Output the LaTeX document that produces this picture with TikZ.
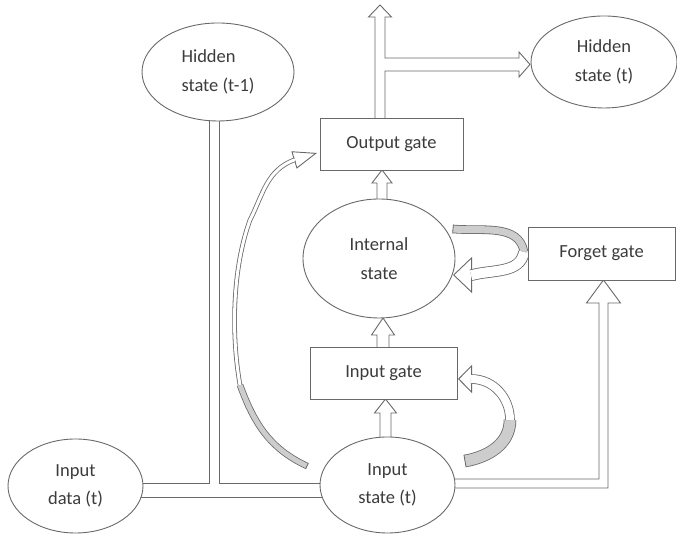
\documentclass[tikz,border=0pt]{standalone}
\usepackage{fontspec}
\setmainfont{Carlito}
\usetikzlibrary{arrows.meta,calc,shapes.geometric}
\definecolor{edge}{RGB}{105,105,105}
\definecolor{ink}{RGB}{60,60,60}
\definecolor{back}{RGB}{205,205,205}
\pgfdeclarelayer{bg}
\pgfsetlayers{bg,main}
% hollow up arrow: start, tip, shaft half width, head half width, head length
\newcommand{\blockup}[5]{\draw[wall] ($(#1)+(-#3,0)$) -- ($(#2)+(-#3,-#5)$) -- ++(#3-#4,0) -- (#2)
  -- ($(#2)+(#4,-#5)$) -- ++(#3-#4,0) -- ($(#1)+(#3,0)$);}

\begin{document}
\begin{tikzpicture}[x=1pt,y=1pt,
  txt/.style={font=\fontsize{18.5}{28.5}\selectfont, text=ink, align=center},
  cell/.style={txt, draw=edge, line width=0.9pt, fill=white, ellipse, inner sep=0pt},
  gate/.style={txt, draw=edge, line width=0.9pt, fill=white, rectangle, inner sep=0pt},
  wall/.style={draw=edge, line width=0.9pt, line join=miter},
  ribbon/.style={draw=edge, line width=0.8pt, double=white, double distance=#1},
  band/.style={draw=edge, line width=0.8pt, double=back, double distance=#1},
  head/.style 2 args={draw=edge, line width=0.9pt, -{Triangle[fill=white,length=#1,width=#2]}}]
  \useasboundingbox (0,0) rectangle (677,534);

  % cells and gates
  \node[cell, minimum width=152pt, minimum height=98pt, align=left] (hprev) at (218,462) {Hidden\\state (t-1)};
  \node[cell, minimum width=146pt, minimum height=92pt] (hnext) at (604,472) {Hidden\\state (t)};
  \node[gate, minimum width=143pt, minimum height=52pt] (outg) at (391.5,390) {Output gate};
  \node[cell, minimum width=152pt, minimum height=119pt] (intst) at (379,275.5) {Internal\\state};
  \node[gate, minimum width=147pt, minimum height=53pt] (forg) at (601.5,280.5) {Forget gate};
  \node[gate, minimum width=147pt, minimum height=52pt] (ing) at (383.5,161) {Input gate};
  \node[cell, minimum width=135pt, minimum height=96pt] (inst) at (387.5,49) {Input\\state (t)};
  \node[cell, minimum width=135pt, minimum height=94pt] (indata) at (75.5,48) {Input\\data (t)};

  \coordinate (dlo) at (0,37);
  \coordinate (jl) at (209,51);
  \coordinate (jr) at (219,51);
  \coordinate (top) at (380,529);
  \coordinate (htip) at (530,469.5);
  \coordinate (up1) at (382,364);
  \coordinate (up2) at (383,216);
  \coordinate (up3) at (385.5,135);
  \coordinate (fa) at (0,55);
  \coordinate (fb) at (0,46);
  \coordinate (ftip) at (603.5,254);

  \begin{pgfonlayer}{bg}
    % data in, hidden (t-1) joins
    \draw[wall] (indata |- dlo) -- (inst |- dlo);
    \draw[wall] (indata |- jl) -- (jl) -- (jl |- hprev.center);
    \draw[wall] (inst |- jr) -- (jr) -- (jr |- hprev.center);
    % output gate: up and on to hidden (t)
    \draw[wall] ($(top |- outg.center)+(-5,0)$) -- ($(top)+(-5,-12)$) -- ++(-6.5,0) -- (top)
      -- ($(top)+(11.5,-12)$) -- ++(-6.5,0) |- ($(htip)+(-11,6.5)$) -- ++(0,6) -- (htip)
      -- ($(htip)+(-11,-12.5)$) -- ++(0,6) -| ($(top |- outg.center)+(5,0)$);
    % straight block arrows
    \blockup{up1 |- intst.center}{up1}{5}{10}{13}
    \blockup{up2 |- ing.center}{up2}{6}{11.5}{17}
    \blockup{up3 |- inst.center}{up3}{5.5}{11}{14}
    \draw[wall] (inst |- fa) -| ($(ftip)+(-4.5,-23)$) -- ++(-12.5,0) -- (ftip)
      -- ($(ftip)+(17,-23)$) -- ++(-12.5,0) |- (inst |- fb);

    % curved arrows
    \coordinate (lt) at (307,68);
    \coordinate (ls) at (240,149);
    \coordinate (lm) at (250,314);
    \coordinate (lb) at (294,374);
    \coordinate (lh) at ($(lb)+(17:24)$);
    \draw[band=5pt] (lt) to[out=155,in=290] (ls);
    \draw[wall, line width=0.8pt] ($(lt)+(65:3.3)$) -- ($(lt)+(245:3.3)$);
    \draw[head={24pt}{18pt}] (lb) -- (lh);
    \draw[ribbon=3pt, shorten >=-1pt] (ls) to[out=100,in=250,looseness=0.8] (lm) to[out=63,in=200] (lb);

    \coordinate (rt) at (465,73);
    \coordinate (rs) at (510,114);
    \coordinate (rb) at (472,155);
    \coordinate (rh) at ($(rb)+(180:14)$);
    \draw[band=11pt] (rt) to[out=10,in=270] (rs);
    \draw[wall, line width=0.8pt] ($(rt)+(100:6.3)$) -- ($(rt)+(280:6.3)$);
    \draw[head={14pt}{28pt}] (rb) -- (rh);
    \draw[ribbon=8pt, shorten >=-1pt] (rs) to[out=90,in=0] (rb);

    \coordinate (ft) at (453,305);
    \coordinate (fs) at (524,282);
    \coordinate (fb) at (472,259);
    \coordinate (fh) at ($(fb)+(180:19)$);
    \draw[band=7pt] (ft) to[out=-5,in=100] (fs);
    \draw[wall, line width=0.8pt] ($(ft)+(85:4.3)$) -- ($(ft)+(265:4.3)$);
    \draw[head={19pt}{36pt}] (fb) -- (fh);
    \draw[ribbon=10pt, shorten >=-1pt] (fs) to[out=260,in=15] (fb);
  \end{pgfonlayer}
\end{tikzpicture}
\end{document}
